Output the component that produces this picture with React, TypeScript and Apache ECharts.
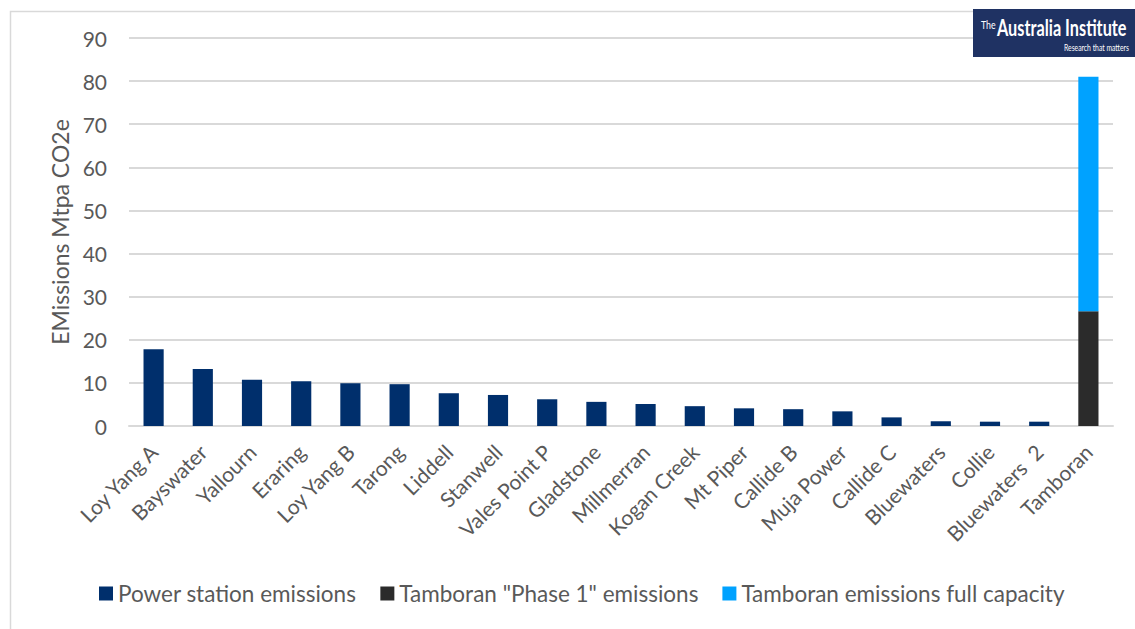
import React, { useEffect, useRef } from "react";
import * as echarts from "echarts";

const categories = [
  "Loy Yang A", "Bayswater", "Yallourn", "Eraring", "Loy Yang B", "Tarong",
  "Liddell", "Stanwell", "Vales Point P", "Gladstone", "Millmerran", "Kogan Creek",
  "Mt Piper", "Callide B", "Muja Power", "Callide C", "Bluewaters", "Collie",
  "Bluewaters  2", "Tamboran",
];
const powerStation = [17.8, 13.2, 10.7, 10.4, 9.9, 9.7, 7.6, 7.2, 6.2, 5.6, 5.1, 4.6, 4.1, 3.9, 3.4, 2.0, 1.1, 1.0, 1.0, null];
const tamboranPhase1 = [null, null, null, null, null, null, null, null, null, null, null, null, null, null, null, null, null, null, null, 26.6];
const tamboranFull = [null, null, null, null, null, null, null, null, null, null, null, null, null, null, null, null, null, null, null, 54.4];
const seriesNames = ["Power station emissions", 'Tamboran "Phase 1" emissions', "Tamboran emissions full capacity"];
const yTicks = { min: 0, max: 90, interval: 10 };

const FONT = "Lato, 'Open Sans', sans-serif";
const GREY = "#595959";

export default function App() {
  const ref = useRef<HTMLDivElement>(null);
  useEffect(() => {
    if (!ref.current) return;
    const chart = echarts.init(ref.current, null, { renderer: "svg" });
    chart.setOption({
      animation: false,
      backgroundColor: "#ffffff",
      textStyle: { fontFamily: FONT },
      grid: { left: 129, right: 22, top: 38, bottom: 203, containLabel: false },
      legend: {
        bottom: 19,
        left: 94,
        itemWidth: 14,
        itemHeight: 14,
        itemGap: 24,
        icon: "rect",
        textStyle: { color: GREY, fontSize: 22.5, fontFamily: FONT },
        data: seriesNames,
      },
      xAxis: {
        type: "category",
        data: categories,
        axisLine: { lineStyle: { color: "#d9d9d9", width: 2 } },
        axisTick: { show: false },
        axisLabel: { rotate: 45, color: GREY, fontSize: 21, margin: 22, interval: 0, fontFamily: FONT },
      },
      yAxis: {
        type: "value",
        min: yTicks.min,
        max: yTicks.max,
        interval: yTicks.interval,
        name: "EMissions Mtpa CO2e",
        nameLocation: "middle",
        nameGap: 58,
        nameTextStyle: { color: GREY, fontSize: 23, fontFamily: FONT },
        axisLabel: { color: GREY, fontSize: 21, margin: 22, fontFamily: FONT },
        axisLine: { show: false },
        axisTick: { show: false },
        splitLine: { lineStyle: { color: "#d9d9d9", width: 2 } },
      },
      series: [
        { name: seriesNames[0], type: "bar", stack: "s", data: powerStation, barWidth: "41%", itemStyle: { color: "#002F6C" } },
        { name: seriesNames[1], type: "bar", stack: "s", data: tamboranPhase1, barWidth: "41%", itemStyle: { color: "#2B2B2B" } },
        { name: seriesNames[2], type: "bar", stack: "s", data: tamboranFull, barWidth: "41%", itemStyle: { color: "#00A2FF" } },
      ],
      graphic: [
        { type: "rect", left: 8, top: 9, shape: { width: 1200, height: 700 }, style: { fill: "none", stroke: "#d9d9d9", lineWidth: 1.5 }, silent: true },
        { type: "rect", left: 973, top: 9, shape: { width: 170, height: 48 }, style: { fill: "#1F3263" }, z: 10 },
        { type: "text", x: 981, y: 19, scaleX: 0.8, style: { text: "The", fill: "#ffffff", fontSize: 11, fontFamily: FONT }, z: 11 },
        { type: "text", x: 997, y: 16, scaleX: 0.74, style: { text: "Australia Institute", fill: "#ffffff", fontSize: 22, fontWeight: "bold", fontFamily: FONT }, z: 11 },
        { type: "text", x: 1064, y: 42, scaleX: 0.68, style: { text: "Research that matters", fill: "#ffffff", fontSize: 10, fontFamily: FONT }, z: 11 },
      ],
    });
    return () => chart.dispose();
  }, []);
  return <div ref={ref} style={{ position: "fixed", left: 0, top: 0, width: 1135, height: 629 }} />;
}
